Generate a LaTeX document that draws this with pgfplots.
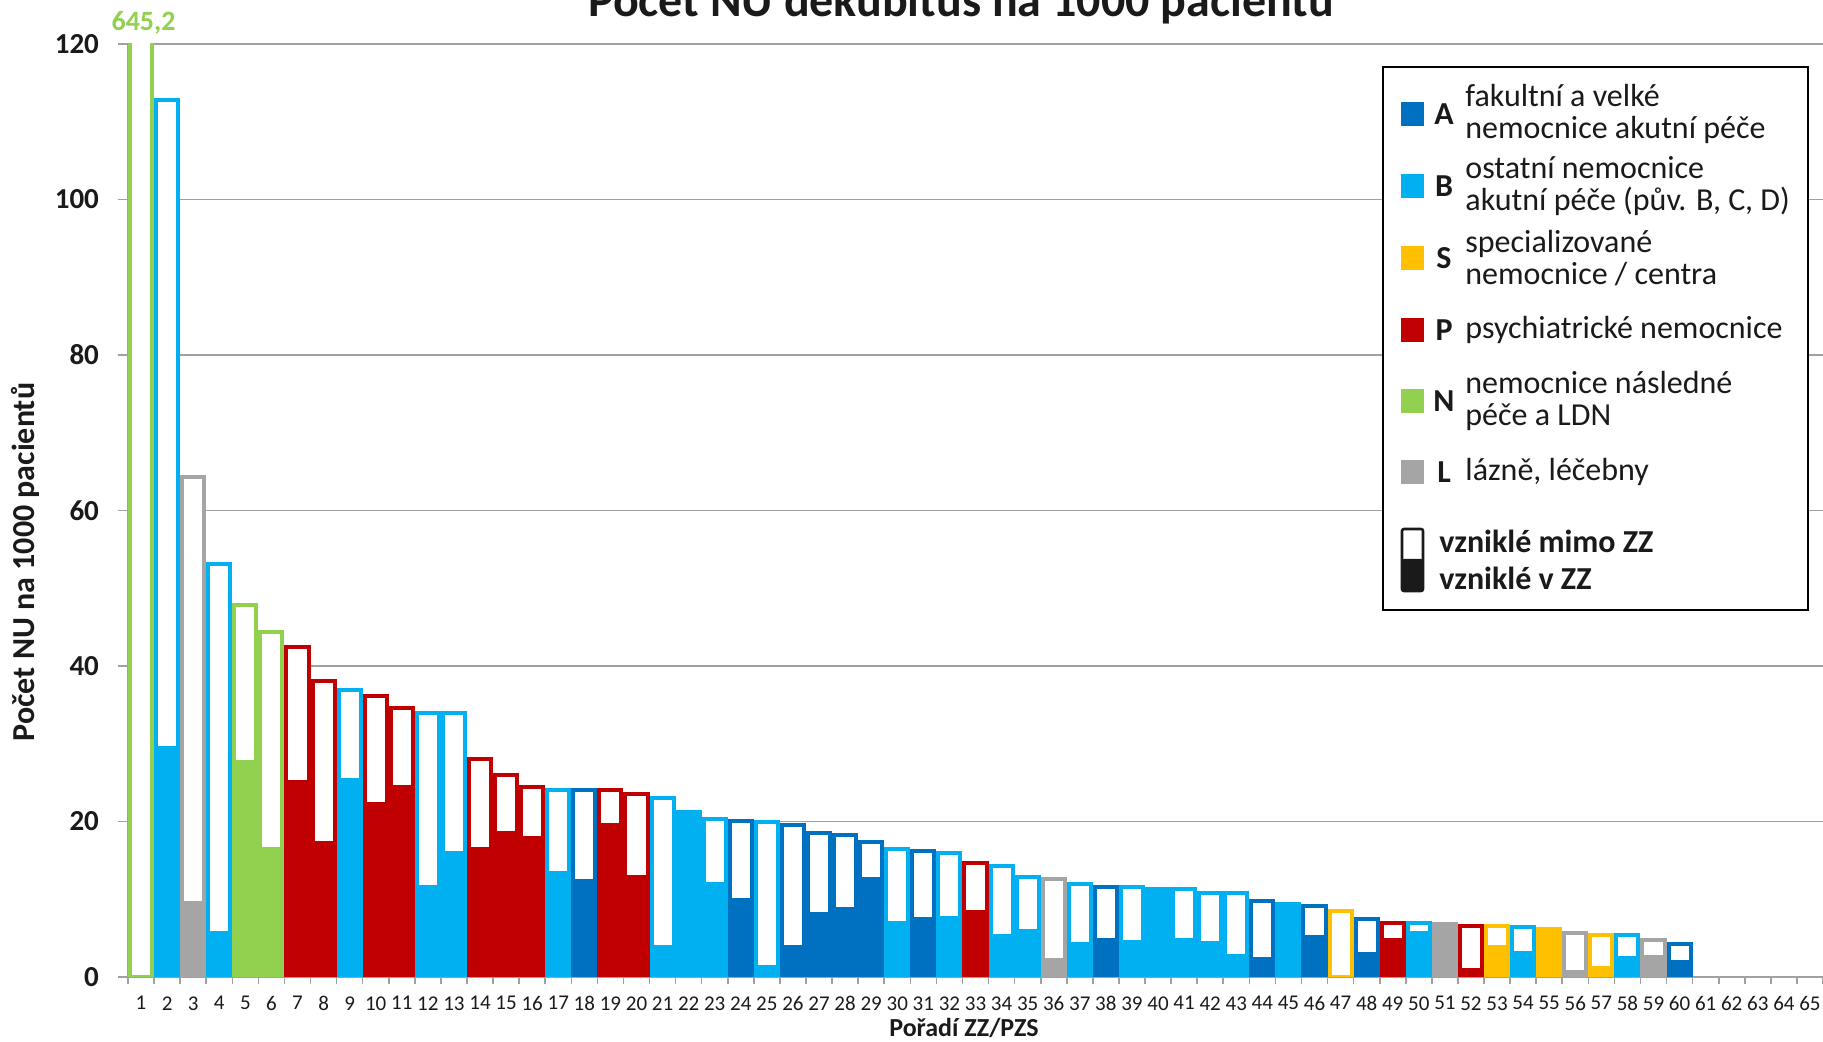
\documentclass[border=0pt]{standalone}
\usepackage{pgfplots}
\pgfplotsset{compat=1.18}
\usepackage{pgfplotstable}
\usepackage{fontspec}
\setmainfont{Carlito}

\definecolor{cA}{HTML}{0070C0}
\definecolor{cB}{HTML}{00B0F0}
\definecolor{cS}{HTML}{FFC000}
\definecolor{cP}{HTML}{C00000}
\definecolor{cN}{HTML}{92D050}
\definecolor{cL}{HTML}{A5A5A5}
\definecolor{gridc}{HTML}{A0A0A0}
\definecolor{txt}{HTML}{1A1A1A}

% x = poradi, in = vznikle v ZZ, tot = celkem
\pgfplotstableread{
x in tot
18 12.4 24.0
24 9.9 20.0
26 3.8 19.6
27 8.1 18.5
28 8.7 18.2
29 12.6 17.4
31 7.5 16.2
38 4.7 11.6
44 2.3 9.8
46 5.1 9.1
48 3.0 7.5
60 1.9 4.3
}\dataA
\pgfplotstableread{
x in tot
2 29.4 112.8
4 5.6 53.1
9 25.4 36.9
12 11.6 34.0
13 15.9 33.9
17 13.4 24.1
21 3.9 23.0
22 21.2 21.2
23 11.9 20.3
25 1.3 19.9
30 6.9 16.4
32 7.6 16.0
34 5.3 14.3
35 5.9 12.9
37 4.2 11.9
39 4.5 11.6
40 11.3 11.3
41 4.8 11.3
42 4.4 10.8
43 2.7 10.8
45 9.4 9.4
50 5.7 7.0
54 3.1 6.4
58 2.5 5.4
}\dataB
\pgfplotstableread{
x in tot
47 0.0 8.5
53 3.8 6.6
55 6.2 6.2
57 1.1 5.4
}\dataS
\pgfplotstableread{
x in tot
7 25.1 42.4
8 17.2 38.1
10 22.3 36.1
11 24.4 34.6
14 16.4 28.1
15 18.5 26.0
16 17.9 24.4
19 19.5 24.0
20 12.8 23.5
33 8.3 14.6
49 4.8 7.0
52 0.9 6.6
}\dataP
\pgfplotstableread{
x in tot
1 0.0 645.2
5 27.6 47.9
6 16.5 44.4
}\dataN
\pgfplotstableread{
x in tot
3 9.5 64.3
36 2.2 12.6
51 6.8 6.8
56 0.6 5.6
59 2.6 4.8
}\dataL

\pgfplotsset{
  outerbar/.style={ybar, bar width=0.845, bar shift=0pt, fill=white, draw=#1, line width=2pt},
  innerbar/.style={ybar, bar width=0.845, bar shift=0pt, fill=#1, draw=#1, line width=2pt},
}

\begin{document}
\begin{tikzpicture}
\begin{axis}[
  at={(0,0)}, anchor=south west,
  scale only axis, width=847.5pt, height=466.5pt,
  xmin=0.5, xmax=65.5, ymin=0, ymax=120,
  axis x line*=bottom, axis y line*=left,
  axis line style={gridc, line width=1pt},
  xtick={1,...,65},
  minor xtick={0.5,1.5,...,65.5},
  ytick={0,20,...,120},
  ymajorgrids,
  major grid style={gridc, line width=0.8pt},
  tick align=outside,
  major tick length=5pt, minor tick length=3.5pt,
  major x tick style={draw=none},
  minor x tick style={gridc, line width=0.8pt},
  major y tick style={gridc, line width=0.8pt},
  /pgf/number format/assume math mode=true,
  xticklabel style={font=\fontsize{10.5}{12}\selectfont, text=txt, yshift=-1.2pt},
  yticklabel style={font=\bfseries\fontsize{14.5}{16}\selectfont, text=txt, xshift=-6pt},
]
\addplot[outerbar=cA] table[x=x, y=tot] {\dataA};
\addplot[outerbar=cB] table[x=x, y=tot] {\dataB};
\addplot[outerbar=cS] table[x=x, y=tot] {\dataS};
\addplot[outerbar=cP] table[x=x, y=tot] {\dataP};
\addplot[outerbar=cN] table[x=x, y=tot] {\dataN};
\addplot[outerbar=cL] table[x=x, y=tot] {\dataL};
\addplot[innerbar=cA] table[x=x, y=in] {\dataA};
\addplot[innerbar=cB] table[x=x, y=in] {\dataB};
\addplot[innerbar=cS] table[x=x, y=in] {\dataS};
\addplot[innerbar=cP] table[x=x, y=in] {\dataP};
\addplot[innerbar=cN] table[x=x, y=in] {\dataN};
\addplot[innerbar=cL] table[x=x, y=in] {\dataL};
\end{axis}

% titles and labels
\node[anchor=base, text=txt, font=\bfseries\fontsize{24}{28}\selectfont] at (416.5pt,480pt) {Počet NU dekubitus na 1000 pacientů};
\node[rotate=90, text=txt, font=\bfseries\fontsize{16}{18}\selectfont] at (-51.5pt,207.5pt) {Počet NU na 1000 pacientů};
\node[anchor=base, text=txt, font=\bfseries\fontsize{13}{15}\selectfont] at (418pt,-30pt) {Pořadí ZZ/PZS};
\node[anchor=base, text=cN, font=\bfseries\fontsize{14}{16}\selectfont] at (7.8pt,473pt) {645,2};

% legend
\draw[line width=1.2pt, fill=white] (627.5pt,183.5pt) rectangle (840pt,455pt);
\foreach \c/\l/\y in {cA/A/431.5, cB/B/395.5, cS/S/359.5, cP/P/323.5, cN/N/288, cL/L/252.5}{
  \fill[\c] (636.5pt,\y pt-5.8pt) rectangle ++(11.6pt,11.6pt);
  \node[text=txt, font=\bfseries\fontsize{16}{17}\selectfont] at (658pt,\y pt) {\l};
}
\begin{scope}[every node/.style={anchor=west, align=left, inner sep=0pt, text=txt, font=\fontsize{16}{15.7}\selectfont}]
\node at (668.5pt,431.5pt) {fakultní a velké\\nemocnice akutní péče};
\node at (668.5pt,395.5pt) {ostatní nemocnice\\akutní péče (pův. B, C, D)};
\node at (668.5pt,359.5pt) {specializované\\nemocnice / centra};
\node at (668.5pt,323.5pt) {psychiatrické nemocnice};
\node at (668.5pt,288pt) {nemocnice následné\\péče a LDN};
\node at (668.5pt,252.5pt) {lázně, léčebny};
\end{scope}
\fill[txt, rounded corners=1pt] (637pt,193pt) rectangle (647.5pt,209pt);
\draw[txt, line width=1.3pt, rounded corners=1pt] (637pt,193pt) rectangle (647.5pt,224pt);
\node[anchor=west, inner sep=0pt, text=txt, font=\bfseries\fontsize{16}{17}\selectfont] at (655.5pt,218pt) {vzniklé mimo ZZ};
\node[anchor=west, inner sep=0pt, text=txt, font=\bfseries\fontsize{16}{17}\selectfont] at (655.5pt,199.5pt) {vzniklé v ZZ};

\pgfresetboundingbox
\useasboundingbox (-64pt,-32.5pt) rectangle (847.5pt,488.5pt);
\end{tikzpicture}
\end{document}
